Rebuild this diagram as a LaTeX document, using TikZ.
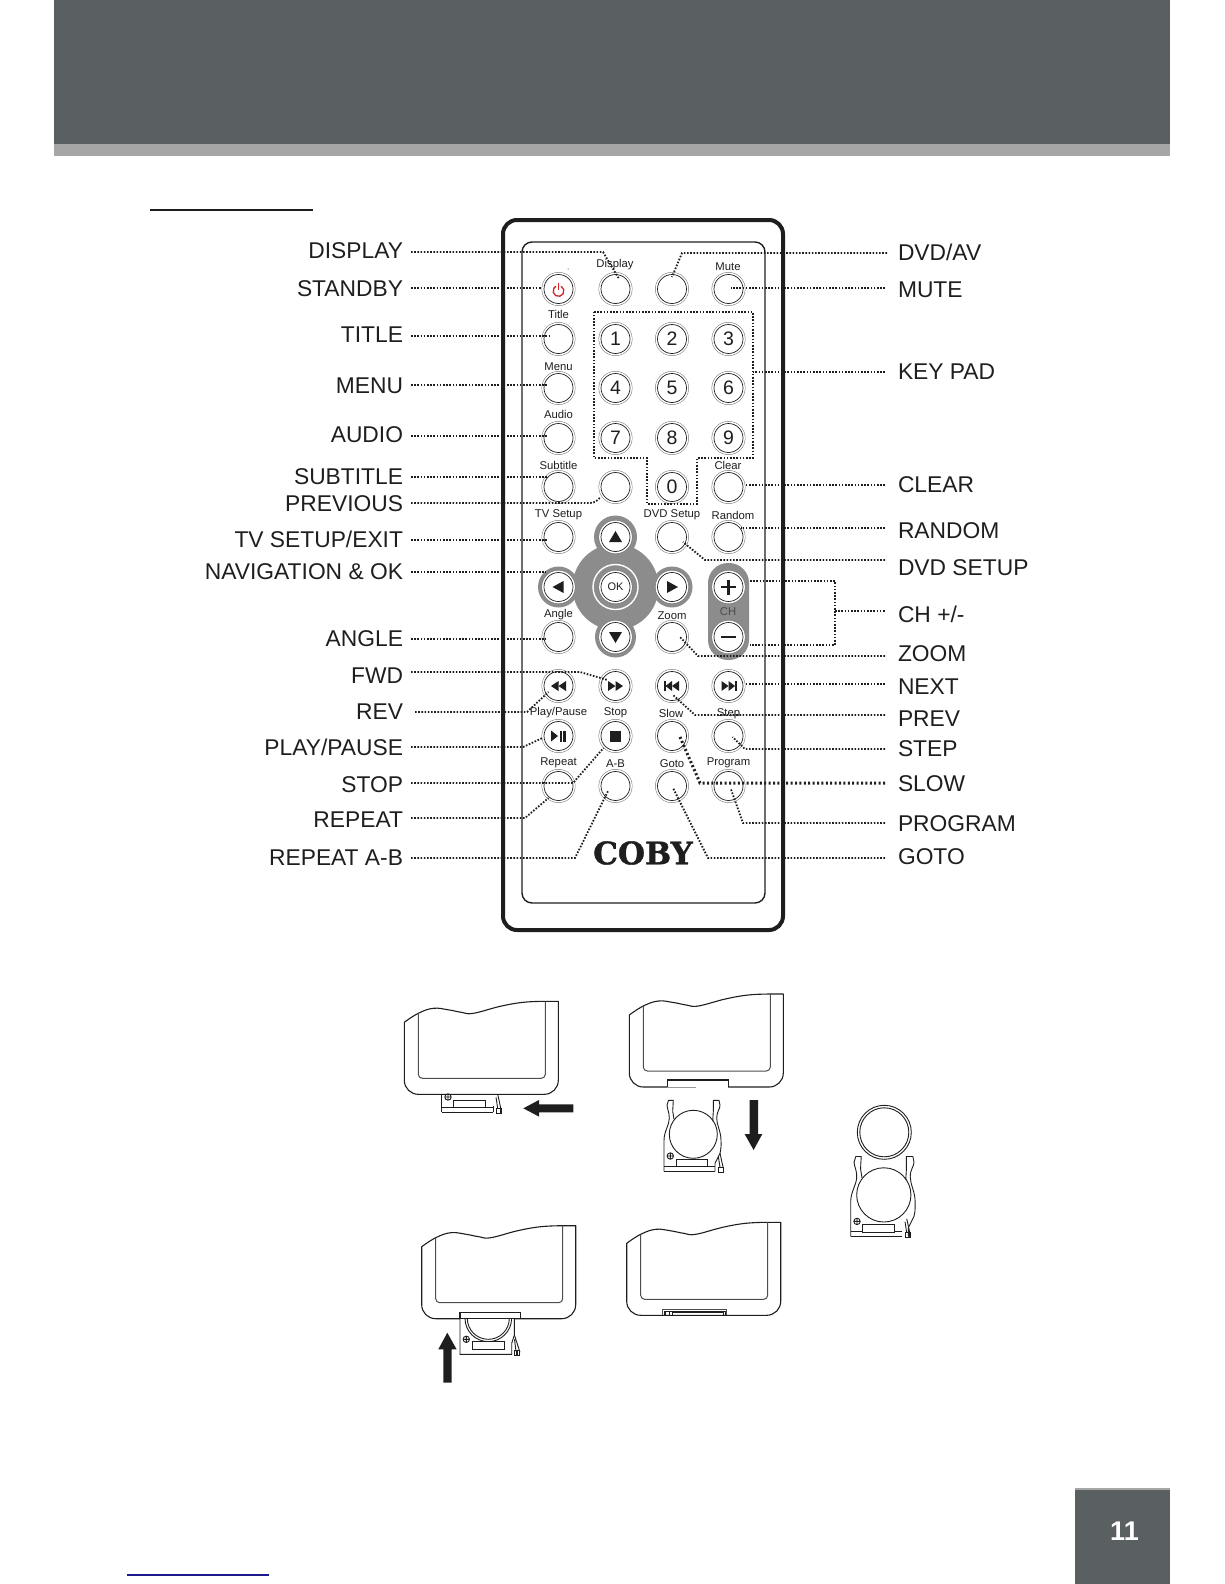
\documentclass[tikz,border=0pt]{standalone}
\usepackage{fontspec}
\setmainfont{Liberation Sans}
\newfontfamily\cobyfont[BoldFeatures={FakeBold=1.2}]{DejaVu Serif}
\usetikzlibrary{calc}
\definecolor{hdr}{HTML}{5A5F62}
\definecolor{band}{HTML}{A6A6A6}
\definecolor{pad}{HTML}{8C8C8C}
\definecolor{ink}{HTML}{1E1E1E}
\definecolor{pwr}{HTML}{D2232A}
\definecolor{navy}{HTML}{1A1A8C}
\tikzset{
  lblL/.style={anchor=east,inner sep=0pt,outer xsep=8pt,outer ysep=0pt,text height=16pt,text depth=0pt,text=ink,font=\fontsize{22.8}{24}\selectfont},
  lblR/.style={anchor=west,inner sep=0pt,outer xsep=13pt,outer ysep=0pt,text height=16pt,text depth=0pt,text=ink,font=\fontsize{22.8}{24}\selectfont},
  capt/.style={inner sep=0pt,yshift=-2pt,text height=8.2pt,text depth=2.4pt,text=ink,font=\fontsize{11.3}{12}\selectfont},
  btn/.style={circle,minimum size=29pt,inner sep=0pt,outer sep=0pt,draw=ink,line width=.7pt,fill=white,
    preaction={draw=black!55,line width=4.8pt},preaction={draw=white,line width=3.8pt},
    text=ink,font=\fontsize{19.5}{20}\selectfont},
  leader/.style={draw=ink,line width=1.8pt,dash pattern=on 1.6pt off 1.6pt},
  heavy/.style={draw=ink,line width=3pt,dash pattern=on 2pt off 2.4pt},
  bline/.style={draw=ink,line width=1.1pt},
  iline/.style={draw=black!70,line width=1pt},
  hline/.style={draw=ink,line width=.9pt},
  bodypic/.pic={
    \draw[bline,line join=round] plot[smooth,tension=.7] coordinates {(0,0)(14,-9)(29,-14)(44,-12.5)(57,-10)(69,-9)(96,-16)(119,-20)(141,-21)}
      -- (154,-21) -- (154,58) arc (0:90:14) -- (14,72) arc (90:180:14) -- cycle;
    \draw[iline] (14,-9) -- (14,52) arc (180:90:4) -- (137,56) arc (90:0:4) -- (141,-21);
  },
  holderbase/.pic={
    \draw[hline] (0,0) -- (51,0);
    \draw[hline] (0,-5.3) -- (12,-5.3) (43.3,-5.3) -- (51,-5.3);
    \draw[hline] (12,-12) rectangle (43.3,-4.7);
    \draw[hline] (6.3,-15.3) circle (3.2) (6.3,-18.5) -- (6.3,-12.1) (3.1,-15.3) -- (9.5,-15.3);
    \draw[hline] (56,-18) -- (59.3,-3) (54.3,-15) -- (56,-4);
    \draw[line width=1.1pt,draw=ink] (54.6,-4) rectangle (59.3,1);
  },
  holderfull/.pic={
    \pic {holderbase};
    \draw[hline] (29.3,-37) circle (24);
    \draw[hline,line join=round] (0,0) -- (0,-31) .. controls (0,-40) and (5.3,-46) .. (5.3,-53) .. controls (5.3,-60) and (3,-62) .. (3,-66) -- (4.5,-71) -- (9.3,-71) -- (8.7,-60) -- (10,-52);
    \draw[hline,line join=round] (51,0) -- (51,-8) -- (56,-18) .. controls (57.5,-24) and (57,-28) .. (57,-31) .. controls (57,-40) and (52.7,-46) .. (52.7,-53) .. controls (52.7,-60) and (56,-62) .. (56,-66) -- (55,-71) -- (49.3,-71) -- (49.3,-60) -- (48.7,-50);
  }
}
\begin{document}
\begin{tikzpicture}[x=1pt,y=-1pt]
\useasboundingbox (0,0) rectangle (1224,1584);
% page furniture
\fill[hdr] (54,0) rectangle (1170,144);
\fill[band] (54,144) rectangle (1170,156);
\draw[ink,line width=2pt] (150,210) -- (313,210);
\draw[navy,line width=1.2pt] (127,1575) -- (269,1575);
\fill[hdr] (1075,1488) rectangle (1170,1584);
\fill[band] (1075,1488) rectangle (1170,1490);
\node[inner sep=0pt,text=white,font=\bfseries\fontsize{27}{28}\selectfont] (pageNo) at (1124.5,1531) {11};
% remote body
\draw[ink,line width=4pt,rounded corners=14pt] (503,220) rectangle (783,930);
\draw[ink,line width=1.4pt,rounded corners=10pt] (522,242) rectangle (765,903);
\fill[black] (568,269) circle (.5);
% grey pads
\fill[pad] (615.5,587) circle (43);
\fill[pad] (615.5,537) circle (21.5);
\fill[pad] (615.5,637) circle (20.5);
\fill[pad] (558.5,587) circle (20.5);
\fill[pad] (672,587) circle (20.5);
\fill[pad,rounded corners=20pt] (708,563) rectangle (749,660);
\draw[white,line width=1.4pt] (615.5,587) circle (22.5);
% buttons
\node[btn] (bPower) at (558.5,289) {};
\node[btn] (bDisplay) at (615.5,289) {};
\node[btn] (bDvdAv) at (672,289) {};
\node[btn] (bMute) at (728.5,289) {};
\node[btn] (bTitle) at (558.5,339) {};
\node[btn] (b1) at (615.5,339) {1};
\node[btn] (b2) at (672,339) {2};
\node[btn] (b3) at (728.5,339) {3};
\node[btn] (bMenu) at (558.5,388) {};
\node[btn] (b4) at (615.5,388) {4};
\node[btn] (b5) at (672,388) {5};
\node[btn] (b6) at (728.5,388) {6};
\node[btn] (bAudio) at (558.5,438) {};
\node[btn] (b7) at (615.5,438) {7};
\node[btn] (b8) at (672,438) {8};
\node[btn] (b9) at (728.5,438) {9};
\node[btn] (bSubtitle) at (558.5,487) {};
\node[btn] (bPrevious) at (615.5,487) {};
\node[btn] (b0) at (672,487) {0};
\node[btn] (bClear) at (728.5,487) {};
\node[btn] (bTv) at (558.5,537) {};
\node[btn] (bUp) at (615.5,537) {};
\node[btn] (bDvdSetup) at (672,537) {};
\node[btn] (bRandom) at (728.5,537) {};
\node[btn] (bLeft) at (558.5,587) {};
\node[btn,font=\fontsize{11}{12}\selectfont] (bOk) at (615.5,587) {OK};
\node[btn] (bRight) at (672,587) {};
\node[btn] (bPlus) at (728.5,587) {};
\node[btn] (bAngle) at (558.5,637) {};
\node[btn] (bDown) at (615.5,637) {};
\node[btn] (bZoom) at (672,637) {};
\node[btn] (bMinus) at (728.5,637) {};
\node[btn] (bRev) at (558.5,686) {};
\node[btn] (bFwd) at (615.5,686) {};
\node[btn] (bPrev) at (672,686) {};
\node[btn] (bNext) at (728.5,686) {};
\node[btn] (bPlay) at (558.5,736) {};
\node[btn] (bStop) at (615.5,736) {};
\node[btn] (bSlow) at (672,736) {};
\node[btn] (bStep) at (728.5,736) {};
\node[btn] (bRepeat) at (558.5,786) {};
\node[btn] (bAB) at (615.5,786) {};
\node[btn] (bGoto) at (672,786) {};
\node[btn] (bProgram) at (728.5,786) {};
% icons
\draw[pwr,line width=1.3pt] (bPower) ++(2.7,-2.7) arc (-60:240:5.4);
\draw[pwr,line width=1.3pt] (bPower) ++(0,-6) -- ++(0,6.5);
\fill[ink] (bUp) ++(-6.5,5) -- ++(13,0) -- ++(-6.5,-11) -- cycle;
\fill[ink] (bDown) ++(-6.5,-5) -- ++(13,0) -- ++(-6.5,11) -- cycle;
\fill[ink] (bLeft) ++(5,-6) -- ++(0,12) -- ++(-11,-6) -- cycle;
\fill[ink] (bRight) ++(-5,-6) -- ++(0,12) -- ++(11,-6) -- cycle;
\fill[ink] (bPlus) ++(-7.5,-1.3) rectangle ++(15,2.6);
\fill[ink] (bPlus) ++(-1.3,-7.5) rectangle ++(2.6,15);
\fill[ink] (bMinus) ++(-7.5,-1.3) rectangle ++(15,2.6);
\fill[ink] (bRev) ++(0,-5) -- ++(0,10) -- ++(-7.5,-5) -- cycle;
\fill[ink] (bRev) ++(7.5,-5) -- ++(0,10) -- ++(-7.5,-5) -- cycle;
\fill[ink] (bFwd) ++(0,-5) -- ++(0,10) -- ++(7.5,-5) -- cycle;
\fill[ink] (bFwd) ++(-7.5,-5) -- ++(0,10) -- ++(7.5,-5) -- cycle;
\fill[ink] (bPrev) ++(-8.5,-5) rectangle ++(2,10);
\fill[ink] (bPrev) ++(0,-5) -- ++(0,10) -- ++(-6.5,-5) -- cycle;
\fill[ink] (bPrev) ++(7,-5) -- ++(0,10) -- ++(-7,-5) -- cycle;
\fill[ink] (bNext) ++(6.5,-5) rectangle ++(2,10);
\fill[ink] (bNext) ++(0,-5) -- ++(0,10) -- ++(6.5,-5) -- cycle;
\fill[ink] (bNext) ++(-7,-5) -- ++(0,10) -- ++(7,-5) -- cycle;
\fill[ink] (bPlay) ++(-7.5,-5.5) -- ++(0,11) -- ++(7,-5.5) -- cycle;
\fill[ink] (bPlay) ++(1,-5.5) rectangle ++(2.4,11);
\fill[ink] (bPlay) ++(4.6,-5.5) rectangle ++(2.8,11);
\fill[ink] (bStop) ++(-5.5,-5.5) rectangle ++(11,11);
% captions
\node[capt] (cDisplay) at (615,263) {Display};
\node[capt] (cMute) at (728,266) {Mute};
\node[capt] (cTitle) at (558.5,314) {Title};
\node[capt] (cMenu) at (558.5,366) {Menu};
\node[capt] (cAudio) at (558.5,414) {Audio};
\node[capt] (cSubtitle) at (558.5,465) {Subtitle};
\node[capt] (cClear) at (728,465) {Clear};
\node[capt] (cTv) at (558.5,513) {TV Setup};
\node[capt] (cDvd) at (672,513) {DVD Setup};
\node[capt] (cRandom) at (733,515) {Random};
\node[capt] (cAngle) at (558.5,613) {Angle};
\node[capt] (cZoom) at (672,615) {Zoom};
\node[capt,text=black!70] (cCh) at (728,611) {CH};
\node[capt] (cPlay) at (558.5,711) {Play/Pause};
\node[capt] (cStop) at (615.5,711) {Stop};
\node[capt] (cSlow) at (671,713) {Slow};
\node[capt] (cStep) at (728.5,712) {Step};
\node[capt] (cRepeat) at (558.5,761) {Repeat};
\node[capt] (cAB) at (615.5,763) {A-B};
\node[capt] (cGoto) at (672,763) {Goto};
\node[capt] (cProgram) at (728.5,761) {Program};
\node[inner sep=0pt,text=ink,font=\cobyfont\bfseries\fontsize{31}{33}\selectfont] (logo) at (643,853) {COBY};
% left labels
\node[lblL] (lDisplay) at (411,250.5) {DISPLAY};
\node[lblL] (lStandby) at (411,288) {STANDBY};
\node[lblL] (lTitle) at (411,334.5) {TITLE};
\node[lblL] (lMenu) at (411,385) {MENU};
\node[lblL] (lAudio) at (411,434.5) {AUDIO};
\node[lblL] (lSubtitle) at (411,476) {SUBTITLE};
\node[lblL] (lPrevious) at (411,503) {PREVIOUS};
\node[lblL] (lTvSetup) at (411,539.5) {TV SETUP/EXIT};
\node[lblL] (lNav) at (411,571) {NAVIGATION \& OK};
\node[lblL] (lAngle) at (411,638.5) {ANGLE};
\node[lblL] (lFwd) at (411,675) {FWD};
\node[lblL] (lRev) at (411,711) {REV};
\node[lblL] (lPlay) at (411,747) {PLAY/PAUSE};
\node[lblL] (lStop) at (411,784) {STOP};
\node[lblL] (lRepeat) at (411,819) {REPEAT};
\node[lblL] (lAB) at (411,857) {REPEAT A-B};
% right labels
\node[lblR] (rDvdAv) at (885,252.5) {DVD/AV};
\node[lblR] (rMute) at (885,289) {MUTE};
\node[lblR] (rKey) at (885,371) {KEY PAD};
\node[lblR] (rClear) at (885,484) {CLEAR};
\node[lblR] (rRandom) at (885,530) {RANDOM};
\node[lblR] (rDvdSetup) at (885,567) {DVD SETUP};
\node[lblR] (rCh) at (885,614) {CH +/-};
\node[lblR] (rZoom) at (885,653) {ZOOM};
\node[lblR] (rNext) at (885,686) {NEXT};
\node[lblR] (rPrev) at (885,718) {PREV};
\node[lblR] (rStep) at (885,748) {STEP};
\node[lblR] (rSlow) at (885,783) {SLOW};
\node[lblR] (rProgram) at (885,823) {PROGRAM};
\node[lblR] (rGoto) at (885,856) {GOTO};
% keypad outline
\draw[leader] (594,312) -- (753,312) -- (753,458) -- (697,458) -- (697,504) -- (647,504) -- (647,458) -- (594,458) -- cycle;
% left leaders
\draw[leader] (lDisplay.east) ++(0,1.5) -- (603,252) -- ($(bDisplay)+(3,-11)$);
\draw[leader] (lStandby.east) -- ($(bPower.west)+(-2,-1)$);
\draw[leader] (lTitle.east) ++(0,1.5) -- ($(bTitle)+(-7,-3)$);
\draw[leader] (lMenu.east) -- ($(bMenu)+(-11,-3)$);
\draw[leader] (lAudio.east) ++(0,1.5) -- ($(bAudio)+(-11,-2)$);
\draw[leader] (lSubtitle.east) ++(0,1) -- ($(bSubtitle)+(-11,-10)$);
\draw[leader] (lPrevious.east) -- (590,503) .. controls (595,503) and (598,500) .. ($(bPrevious)+(-15,10)$);
\draw[leader] (lTvSetup.east) ++(0,.5) -- ($(bTv)+(-11,3)$);
\draw[leader] (lNav.east) ++(0,1) -- ($(bLeft)+(-13,-15)$);
\draw[leader] (lAngle.east) ++(0,.5) -- ($(bAngle)+(-13,2)$);
\draw[leader] (lFwd.east) ++(0,-3) -- (580,672) -- ($(bFwd)+(-8,-6)$);
\draw[leader] (lRev.east) ++(4,1) -- (527,712) -- ($(bRev)+(-10,6)$);
\draw[leader] (lPlay.east) -- (523,747) -- ($(bPlay)+(-16,2)$);
\draw[leader] (lStop.east) ++(0,-1) -- (573,783) -- ($(bStop)+(-12,12)$);
\draw[leader] (lRepeat.east) ++(0,-1) -- (525,818) -- ($(bRepeat)+(-10,12)$);
\draw[leader] (lAB.east) ++(0,1) -- (575,858) -- ($(bAB)+(-7,4)$);
% right leaders
\draw[leader] (rDvdAv.west) ++(2,.5) -- (682,253) -- ($(bDvdAv)+(0,-12)$);
\draw[leader] (rMute.west) ++(0,-1) -- ($(bMute)+(2,-1)$);
\draw[leader] (rKey.west) ++(0,1) -- (753,372);
\draw[leader] (rClear.west) ++(0,1) -- ($(bClear.east)+(2,-2)$);
\draw[leader] (rRandom.west) ++(0,-2) -- ($(bRandom)+(12,-9)$);
\draw[leader] (rDvdSetup.west) ++(0,-7) -- (705,560) -- ($(bDvdSetup)+(11,5)$);
\draw[leader] (750,581) -- (835,581) -- (835,645) -- (750,645);
\draw[leader] (835,611) -- ($(rCh.west)+(0,-3)$);
\draw[leader] (rZoom.west) ++(0,3) -- (698,656) -- ($(bZoom)+(8,0)$);
\draw[leader] (rNext.west) ++(0,-2) -- ($(bNext.east)+(3,-2)$);
\draw[leader] (rPrev.west) ++(0,-3) -- (695,715) -- ($(bPrev)+(1,9)$);
\draw[leader] (rStep.west) ++(0,1) -- (745,749) -- ($(bStep)+(4,1)$);
\draw[heavy] (rSlow.west) -- (700,783) -- ($(bSlow)+(8,1)$);
\draw[leader] (rProgram.west) -- (743,823) -- ($(bProgram)+(2,2)$);
\draw[leader] (rGoto.west) ++(0,2) -- (708,858) -- ($(bGoto)+(1,2)$);
% battery figures
\pic (bodyA) at (404.3,1022.3) {bodypic};
\pic (holdA) at (441.7,1112.3) {holderbase};
\draw[hline] (441.7,1095) -- (441.7,1112.3);
\draw[hline] (493.4,1112.3) -- (493.4,1106);
\fill[ink] (573.3,1104.3) -- (539,1104.3) -- (539,1100) -- (523.3,1108.3) -- (539,1116.6) -- (539,1112.3) -- (573.3,1112.3) -- cycle;
\pic (bodyB) at (629.3,1015) {bodypic};
\begin{scope}[shift={(629.3,1015)}]
\fill[white] (38.6,70) rectangle (98.6,73.5);
\draw[bline] (38,72) -- (38,65) -- (99,65) -- (99,72);
\draw[black!40,line width=.7pt] (38,72) -- (67,72);
\end{scope}
\pic (holdB) at (664,1171.3) {holderfull};
\fill[ink] (749.7,1100) -- (749.7,1134) -- (744.6,1134) -- (753.6,1150) -- (762.3,1134) -- (758,1134) -- (758,1100) -- cycle;
\pic (bodyC) at (421.7,1246.7) {bodypic};
\begin{scope}[shift={(460,1354.3)}]
\fill[white] (0.4,-36) rectangle (54,-1);
\draw[hline] (28.3,-36) ++(-23.3,0) arc (180:0:23.3);
\draw[hline] (28.3,-36) ++(-21,0) arc (180:0:21);
\draw[hline] (0,-36) -- (0,0) -- (51.7,0) -- (51.7,-11) -- (54.3,-19.3) -- (54.3,-36);
\fill[white] (12.3,-12.7) rectangle (44,-5);
\draw[hline] (12.3,-12.7) rectangle (44,-5);
\draw[hline] (6.3,-15) circle (3.2) (6.3,-18.2) -- (6.3,-11.8) (3.1,-15) -- (9.5,-15);
\draw[hline] (54.5,-19) -- (60,-2) (54.5,-15) -- (56,-3);
\draw[line width=1.1pt,draw=ink] (54.6,-4) rectangle (59.5,1) (57,-4) -- (57,1);
\draw[bline,fill=white] (0,-42) rectangle (60.7,-36);
\end{scope}
\fill[ink] (443.3,1382.7) -- (443.3,1349.3) -- (438.3,1349.3) -- (447.3,1332.7) -- (456.6,1349.3) -- (451.7,1349.3) -- (451.7,1382.7) -- cycle;
\pic (bodyD) at (626.7,1243.3) {bodypic};
\begin{scope}[shift={(626.7,1243.3)}]
\draw[iline] (35.7,72) -- (35.7,66) -- (100,66) -- (100,72);
\draw[hline] (37.3,72) -- (37.3,67.7) -- (98.3,67.7) -- (98.3,72);
\draw[hline] (38.3,72) rectangle (43,68.5);
\draw[hline] (45.3,72) rectangle (97,69);
\end{scope}
\draw[hline] (884.3,1132.3) circle (27);
\draw[hline] (884.3,1132.3) circle (24.5);
\pic[scale=1.13] (holdE) at (850.7,1236.7) {holderfull};
\end{tikzpicture}
\end{document}
